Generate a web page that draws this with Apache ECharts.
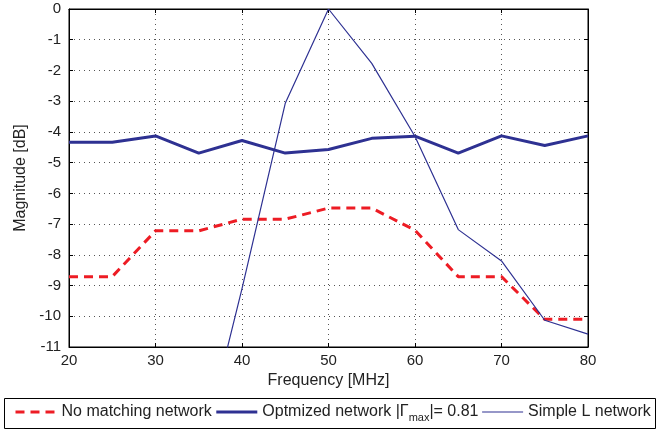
<!DOCTYPE html>
<html><head><meta charset="utf-8">
<script src="https://cdn.jsdelivr.net/npm/echarts@6/dist/echarts.min.js"></script>
<style>html,body{margin:0;padding:0;background:#fff}#c{width:662px;height:432px}</style>
</head><body><div id="c"></div>
<script>
var freqs = [20,25,30,35,40,45,50,55,60,65,70,75,80];
var noMatching = [-8.71,-8.71,-7.22,-7.22,-6.84,-6.84,-6.48,-6.48,-7.2,-8.71,-8.71,-10.1,-10.1];
var optimized = [-4.34,-4.34,-4.13,-4.69,-4.28,-4.69,-4.57,-4.21,-4.14,-4.69,-4.13,-4.44,-4.13];
var simpleL = [-25,-22,-18.5,-14.8,-9.1,-3.07,0,-1.77,-4.15,-7.18,-8.2,-10.13,-10.58];
var xTicks = [20,30,40,50,60,70,80];
var yTicks = [0,-1,-2,-3,-4,-5,-6,-7,-8,-9,-10,-11];

function pairs(ys){ return freqs.map(function(f,i){return [f, ys[i]];}); }
var FONT = 'Liberation Sans, Arial, sans-serif';
var chart = echarts.init(document.getElementById('c'));
var axisBase = {
  axisLine:{show:true,onZero:false,lineStyle:{color:'#000',width:1}},
  axisTick:{show:true,inside:true,length:4,lineStyle:{color:'#000'}},
};
chart.setOption({
  animation:false,
  textStyle:{fontFamily:FONT},
  grid:{left:69,right:74,top:9,bottom:85,show:true,borderColor:'#000',borderWidth:1,containLabel:false},
  xAxis:[Object.assign({
    type:'value',min:20,max:80,interval:10,position:'bottom',
    name:'Frequency [MHz]',nameLocation:'middle',nameGap:24,
    nameTextStyle:{fontSize:16,color:'#222',fontFamily:FONT},
    axisLabel:{fontSize:15,color:'#222',margin:6,fontFamily:FONT},
    splitLine:{show:true,lineStyle:{color:'#555',type:[1,4],width:1}}
  },axisBase),Object.assign({
    type:'value',min:20,max:80,interval:10,position:'top',
    axisLabel:{show:false},splitLine:{show:false}
  },axisBase)],
  yAxis:[Object.assign({
    type:'value',min:-11,max:0,interval:1,position:'left',
    name:'Magnitude [dB]',nameLocation:'middle',nameGap:38,nameRotate:90,
    nameTextStyle:{fontSize:16,color:'#222',fontFamily:FONT},
    axisLabel:{fontSize:15,color:'#222',margin:8,fontFamily:FONT},
    splitLine:{show:true,lineStyle:{color:'#555',type:[1,4],width:1}}
  },axisBase),Object.assign({
    type:'value',min:-11,max:0,interval:1,position:'right',
    axisLabel:{show:false},splitLine:{show:false}
  },axisBase)],
  graphic:[{type:'rect',left:4,top:398,shape:{width:651,height:30},
    style:{fill:'#fff',stroke:'#000',lineWidth:1},z:-1}],
  legend:{
    left:14,top:404,itemWidth:41,itemHeight:10,itemGap:3,
    padding:0,
    itemStyle:{color:'rgba(0,0,0,0)',borderWidth:0,opacity:0},
    textStyle:{fontSize:16,color:'#222',fontFamily:FONT,
      rich:{sub:{fontSize:11,fontFamily:FONT,color:'#222',padding:[12,0,0,0]}}},
    data:[
      {name:'No matching network',lineStyle:{width:3,color:'#ed1c24',type:[9,6]}},
      {name:'Optmized network',lineStyle:{width:3,color:'#2e3192'}},
      {name:'Simple L network',lineStyle:{width:1.2,color:'#2e3192'}}
    ],
    formatter:function(n){ if(n==='Optmized network') return 'Optmized network |Γ{sub|max}|= 0.81'; return n; }
  },
  series:[
    {name:'No matching network',type:'line',data:pairs(noMatching),symbol:'none',
      lineStyle:{color:'#ed1c24',width:3,type:[9,6]},itemStyle:{color:'#ed1c24'},z:3},
    {name:'Optmized network',type:'line',data:pairs(optimized),symbol:'none',
      lineStyle:{color:'#2e3192',width:3},itemStyle:{color:'#2e3192'},z:4},
    {name:'Simple L network',type:'line',data:pairs(simpleL),symbol:'none',clip:true,
      lineStyle:{color:'#2e3192',width:1.2},itemStyle:{color:'#2e3192'},z:5}
  ]
});
</script></body></html>
